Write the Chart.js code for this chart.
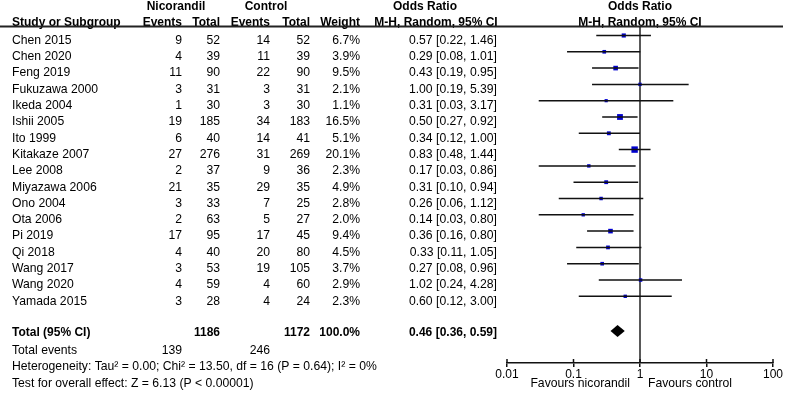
<!DOCTYPE html>
<html>
<head>
<meta charset="utf-8">
<script src="https://cdn.jsdelivr.net/npm/chart.js@4.4.0/dist/chart.umd.min.js"></script>
<style>
body { margin: 0; background: #fff; }
canvas { display: block; }
</style>
</head>
<body>
<canvas id="forest" width="787" height="395"></canvas>
<script>
const studies = ['Chen 2015', 'Chen 2020', 'Feng 2019', 'Fukuzawa 2000', 'Ikeda 2004', 'Ishii 2005', 'Ito 1999',
  'Kitakaze 2007', 'Lee 2008', 'Miyazawa 2006', 'Ono 2004', 'Ota 2006', 'Pi 2019', 'Qi 2018', 'Wang 2017',
  'Wang 2020', 'Yamada 2015'];
const nicEvents = [9, 4, 11, 3, 1, 19, 6, 27, 2, 21, 3, 2, 17, 4, 3, 4, 3];
const nicTotal = [52, 39, 90, 31, 30, 185, 40, 276, 37, 35, 33, 63, 95, 40, 53, 59, 28];
const ctrlEvents = [14, 11, 22, 3, 3, 34, 14, 31, 9, 29, 7, 5, 17, 20, 19, 4, 4];
const ctrlTotal = [52, 39, 90, 31, 30, 183, 41, 269, 36, 35, 25, 27, 45, 80, 105, 60, 24];
const weights = [6.7, 3.9, 9.5, 2.1, 1.1, 16.5, 5.1, 20.1, 2.3, 4.9, 2.8, 2.0, 9.4, 4.5, 3.7, 2.9, 2.3];
const oddsRatio = [0.57, 0.29, 0.43, 1.00, 0.31, 0.50, 0.34, 0.83, 0.17, 0.31, 0.26, 0.14, 0.36, 0.33, 0.27, 1.02, 0.60];
const ciLow = [0.22, 0.08, 0.19, 0.19, 0.03, 0.27, 0.12, 0.48, 0.03, 0.10, 0.06, 0.03, 0.16, 0.11, 0.08, 0.24, 0.12];
const ciHigh = [1.46, 1.01, 0.95, 5.39, 3.17, 0.92, 1.00, 1.44, 0.86, 0.94, 1.12, 0.80, 0.80, 1.05, 0.96, 4.28, 3.00];

const pooledOR = 0.46;
const pooledLow = 0.36;
const pooledHigh = 0.59;
const totalNic = 1186;
const totalCtrl = 1172;
const totalEventsNic = 139;
const totalEventsCtrl = 246;

const tickValues = [0.01, 0.1, 1, 10, 100];
const tickLabels = ['0.01', '0.1', '1', '10', '100'];

const heterogeneity = 'Heterogeneity: Tau\u00b2 = 0.00; Chi\u00b2 = 13.50, df = 16 (P = 0.64); I\u00b2 = 0%';
const overallTest = 'Test for overall effect: Z = 6.13 (P < 0.00001)';

const FONT = '"Liberation Sans", Arial, sans-serif';
const totalRow = 18;

// CI segments, separated by gaps
const ciData = [];
studies.forEach((s, i) => {
  ciData.push({ x: ciLow[i], y: i }, { x: ciHigh[i], y: i }, { x: ciHigh[i], y: null });
});
const squareData = studies.map((s, i) => ({ x: oddsRatio[i], y: i }));
// square side grows with weight
const squareRadius = weights.map(w => (3 + 0.17 * w) / Math.SQRT2);

const fmt = v => v.toFixed(2);

const tablePlugin = {
  id: 'table',
  beforeDatasetsDraw(chart) {
    const { ctx, chartArea, scales: { x } } = chart;
    const x1 = x.getPixelForValue(1);
    ctx.save();
    ctx.strokeStyle = '#222';
    ctx.lineWidth = 1.5;
    ctx.beginPath();
    ctx.moveTo(x1, chartArea.top);
    ctx.lineTo(x1, chartArea.bottom);
    ctx.stroke();
    ctx.restore();
  },
  afterDraw(chart) {
    const { ctx, chartArea, scales: { x, y } } = chart;
    const x1 = x.getPixelForValue(1);
    const txt = (s, px, row, align, bold) => {
      ctx.font = (bold ? 'bold 12px ' : '12.2px ') + FONT;
      ctx.textAlign = align;
      ctx.fillText(s, px, y.getPixelForValue(row) + 5);
    };
    ctx.save();
    ctx.fillStyle = '#000';
    ctx.textBaseline = 'middle';

    // headers
    txt('Nicorandil', 176, -2.05, 'center', true);
    txt('Control', 266, -2.05, 'center', true);
    txt('Odds Ratio', 425, -2.05, 'center', true);
    txt('Odds Ratio', x1, -2.05, 'center', true);
    txt('Study or Subgroup', 12, -1.07, 'left', true);
    txt('Events', 182, -1.07, 'right', true);
    txt('Total', 220, -1.07, 'right', true);
    txt('Events', 270, -1.07, 'right', true);
    txt('Total', 310, -1.07, 'right', true);
    txt('Weight', 360, -1.07, 'right', true);
    txt('M-H, Random, 95% CI', 436, -1.07, 'center', true);
    txt('M-H, Random, 95% CI', x1, -1.07, 'center', true);

    ctx.strokeStyle = '#222';
    ctx.lineWidth = 1.8;
    ctx.beginPath();
    ctx.moveTo(0, chartArea.top - 0.5);
    ctx.lineTo(783, chartArea.top - 0.5);
    ctx.stroke();

    // study rows
    studies.forEach((s, i) => {
      txt(s, 12, i, 'left');
      txt(String(nicEvents[i]), 182, i, 'right');
      txt(String(nicTotal[i]), 220, i, 'right');
      txt(String(ctrlEvents[i]), 270, i, 'right');
      txt(String(ctrlTotal[i]), 310, i, 'right');
      txt(weights[i].toFixed(1) + '%', 360, i, 'right');
      txt(fmt(oddsRatio[i]) + ' [' + fmt(ciLow[i]) + ', ' + fmt(ciHigh[i]) + ']', 497, i, 'right');
    });

    // total
    const tr = totalRow - 0.1;
    txt('Total (95% CI)', 12, tr, 'left', true);
    txt(String(totalNic), 220, tr, 'right', true);
    txt(String(totalCtrl), 310, tr, 'right', true);
    txt('100.0%', 360, tr, 'right', true);
    txt(fmt(pooledOR) + ' [' + fmt(pooledLow) + ', ' + fmt(pooledHigh) + ']', 497, tr, 'right', true);
    txt('Total events', 12, 19, 'left');
    txt(String(totalEventsNic), 182, 19, 'right');
    txt(String(totalEventsCtrl), 270, 19, 'right');
    txt(heterogeneity, 12, 20, 'left');
    txt(overallTest, 12, 21.03, 'left');

    // favours labels
    txt('Favours nicorandil', x1 - 10, 21.03, 'right');
    txt('Favours control', x1 + 8, 21.03, 'left');

    // diamond
    const cy = y.getPixelForValue(totalRow) + 2;
    ctx.beginPath();
    ctx.moveTo(x.getPixelForValue(pooledLow), cy);
    ctx.lineTo(x.getPixelForValue(pooledOR), cy - 6);
    ctx.lineTo(x.getPixelForValue(pooledHigh), cy);
    ctx.lineTo(x.getPixelForValue(pooledOR), cy + 6);
    ctx.closePath();
    ctx.fill();

    // upward tick parts
    ctx.strokeStyle = '#111';
    ctx.lineWidth = 1.5;
    ctx.beginPath();
    tickValues.forEach(v => {
      const px = x.getPixelForValue(v);
      ctx.moveTo(px, chartArea.bottom);
      ctx.lineTo(px, chartArea.bottom - 4);
    });
    ctx.stroke();
    ctx.restore();
  }
};

new Chart(document.getElementById('forest'), {
  type: 'scatter',
  data: {
    datasets: [
      {
        type: 'line',
        data: ciData,
        borderColor: '#111',
        borderWidth: 1.5,
        pointRadius: 0,
        spanGaps: false,
        showLine: true
      },
      {
        data: squareData,
        pointStyle: 'rect',
        pointRadius: squareRadius,
        pointBorderWidth: 0,
        backgroundColor: '#0000d0',
        borderColor: '#0000d0',
        showLine: false
      }
    ]
  },
  options: {
    responsive: false,
    animation: false,
    layout: { padding: { left: 507, right: 14, top: 27, bottom: 0 } },
    plugins: { legend: { display: false }, tooltip: { enabled: false } },
    scales: {
      x: {
        type: 'logarithmic',
        min: 0.01,
        max: 100,
        afterBuildTicks: s => { s.ticks = tickValues.map(v => ({ value: v })); },
        afterFit: s => { s.height = 32; },
        ticks: {
          callback: (v, i) => tickLabels[i],
          color: '#000',
          font: { family: FONT, size: 12 },
          padding: 0,
          maxRotation: 0,
          autoSkip: false
        },
        grid: { drawOnChartArea: false, drawTicks: true, tickLength: 4, color: '#111', lineWidth: 1.5 },
        border: { color: '#111', width: 1.5 }
      },
      y: {
        type: 'linear',
        min: -0.52,
        max: 20.09,
        reverse: true,
        display: false
      }
    }
  },
  plugins: [tablePlugin]
});
</script>
</body>
</html>
